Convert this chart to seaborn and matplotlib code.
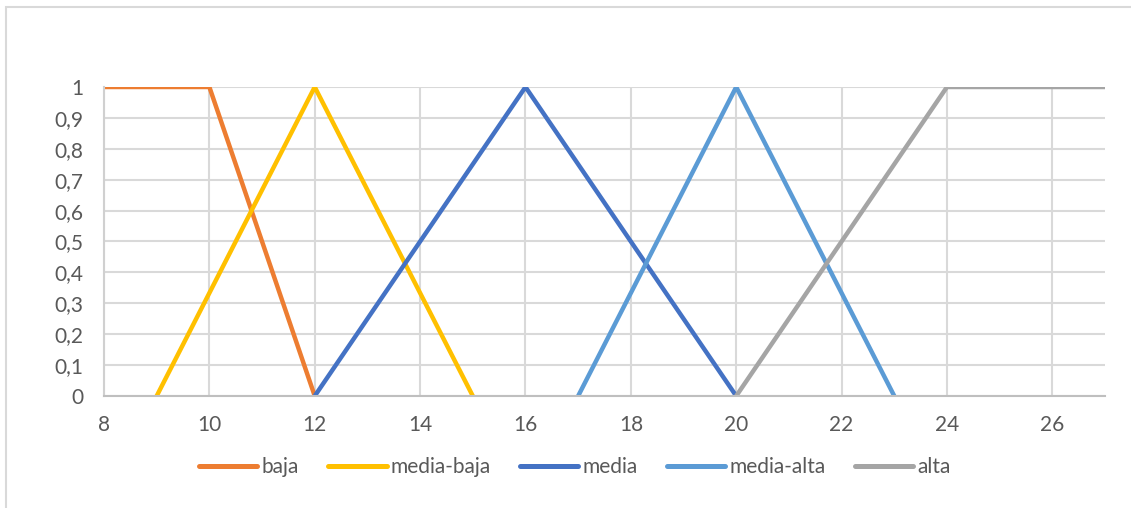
import matplotlib
matplotlib.use("Agg")
import matplotlib.pyplot as plt
from matplotlib.patches import Rectangle
from matplotlib.ticker import FuncFormatter, MultipleLocator
import pandas as pd
import seaborn as sns

# Membership functions (x, degree) for each fuzzy set
series_names = ["baja", "media-baja", "media", "media-alta", "alta"]
baja_x = [8, 10, 12]
baja_y = [1, 1, 0]
media_baja_x = [9, 12, 15]
media_baja_y = [0, 1, 0]
media_x = [12, 16, 20]
media_y = [0, 1, 0]
media_alta_x = [17, 20, 23]
media_alta_y = [0, 1, 0]
alta_x = [20, 24, 27]
alta_y = [0, 1, 1]

colors = ["#ED7D31", "#FFC000", "#4472C4", "#5B9BD5", "#A5A5A5"]

xs = [baja_x, media_baja_x, media_x, media_alta_x, alta_x]
ys = [baja_y, media_baja_y, media_y, media_alta_y, alta_y]
rows = []
for name, sx, sy in zip(series_names, xs, ys):
    for a, b in zip(sx, sy):
        rows.append({"x": a, "y": b, "conjunto": name})
df = pd.DataFrame(rows)

sns.set_theme(style="white")
plt.rcParams["font.family"] = ["Lato", "DejaVu Sans"]

fig = plt.figure(figsize=(11.31, 5.08), dpi=100)
W, H = 1131, 508
ax = fig.add_axes([104 / W, 1 - 396 / H, (1105 - 104) / W, (396 - 87) / H])

# chart frame
fig.patches.append(Rectangle((6 / W, -0.1), 1.2, 1 - 7 / H + 0.1,
                             transform=fig.transFigure, fill=False,
                             edgecolor="#D9D9D9", linewidth=1.5, zorder=0))

sns.lineplot(data=df, x="x", y="y", hue="conjunto", hue_order=series_names,
             palette=colors, estimator=None, sort=False, linewidth=3.2,
             ax=ax, legend=True)
for line in ax.get_lines():
    line.set_solid_capstyle("butt")
    line.set_solid_joinstyle("miter")

ax.set_xlim(8, 27)
ax.set_ylim(0, 1)
ax.xaxis.set_major_locator(MultipleLocator(2))
ax.yaxis.set_major_locator(MultipleLocator(0.1))

def comma_fmt(v, pos):
    s = f"{v:.1f}".rstrip("0").rstrip(".")
    return s.replace(".", ",")

ax.yaxis.set_major_formatter(FuncFormatter(comma_fmt))
ax.xaxis.set_major_formatter(FuncFormatter(lambda v, p: f"{int(round(v))}"))

ax.grid(True, color="#D9D9D9", linewidth=1.5)
ax.set_axisbelow(True)
for side in ["top", "right"]:
    ax.spines[side].set_visible(False)
ax.spines["left"].set_color("#D0D0D0")
ax.spines["left"].set_linewidth(1.5)
ax.spines["bottom"].set_color("#BFBFBF")
ax.spines["bottom"].set_linewidth(1.5)
ax.tick_params(axis="both", length=0, labelsize=15, colors="#595959")
ax.tick_params(axis="x", pad=14)
ax.tick_params(axis="y", pad=15)
ax.set_xlabel("")
ax.set_ylabel("")

handles, labels = ax.get_legend_handles_labels()
for h in handles:
    h.set_solid_capstyle("round")
    h.set_linewidth(3.6)
ax.legend(handles, labels, loc="center", bbox_to_anchor=(0.4705, -0.23),
          ncol=5, frameon=False, fontsize=15, handlelength=2.8,
          handletextpad=0.2, columnspacing=1.4, labelcolor="#595959")

fig.savefig("out.png", dpi=100, facecolor="white")
